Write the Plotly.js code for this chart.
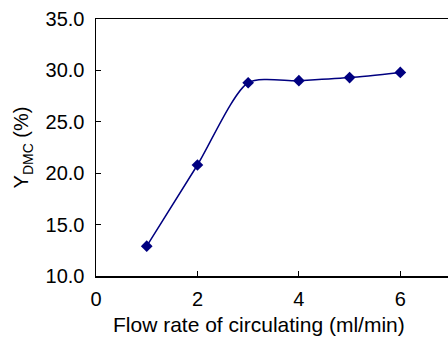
<!DOCTYPE html>
<html><head><meta charset="utf-8">
<script src="https://cdn.plot.ly/plotly-3.0.1.min.js"></script>
<style>body{margin:0;padding:0;background:#fff}#c{width:448px;height:337px}</style>
</head><body><div id="c"></div>
<script>
var flowRate = [1, 2, 3, 4, 5, 6];
var yieldDMC = [12.9, 20.8, 28.8, 29.0, 29.3, 29.8];
var xTicks = [0, 2, 4, 6];
var yTicks = [10, 15, 20, 25, 30, 35];
var yTickText = yTicks.map(function(v){return v.toFixed(1);});
var xTitle = 'Flow rate of circulating (ml/min)';
var yTitle = 'Y<sub>DMC</sub> (%)';

var trace = {
  x: flowRate, y: yieldDMC, type: 'scatter', mode: 'lines+markers',
  line: {color: '#000080', width: 1.5, shape: 'spline', smoothing: 0.7},
  marker: {symbol: 'diamond', size: 9, color: '#000080'},
  cliponaxis: false
};
var font = {family: 'Liberation Sans, Arial, sans-serif', size: 20, color: '#000'};
var titleFont = {family: 'Liberation Sans, Arial, sans-serif', size: 21, color: '#000'};
var layout = {
  width: 448, height: 337,
  margin: {l: 96, r: 0, t: 19, b: 61},
  paper_bgcolor: '#fff', plot_bgcolor: '#fff',
  showlegend: false,
  font: font,
  xaxis: {
    range: [0, 6.94], tickvals: xTicks, ticktext: xTicks.map(String),
    ticks: 'inside', ticklen: 5, tickcolor: '#000', tickwidth: 1,
    showline: true, linecolor: '#000', linewidth: 1.5, mirror: true,
    showgrid: false, zeroline: false,
    tickfont: font, ticklabelstandoff: 4
  },
  yaxis: {
    range: [10, 35], tickvals: yTicks, ticktext: yTickText,
    ticks: 'inside', ticklen: 5, tickcolor: '#000', tickwidth: 1,
    showline: true, linecolor: '#000', linewidth: 1.5,
    showgrid: false, zeroline: false,
    tickfont: font, ticklabelstandoff: 6,
    title: {text: yTitle, font: font, standoff: 11}
  },
  annotations: [{
    text: xTitle, font: titleFont, showarrow: false,
    xref: 'paper', yref: 'paper', x: 0.4617, y: -0.19,
    xanchor: 'center', yanchor: 'middle'
  }]
};
Plotly.newPlot('c', [trace], layout, {displayModeBar: false, staticPlot: true});
</script></body></html>
